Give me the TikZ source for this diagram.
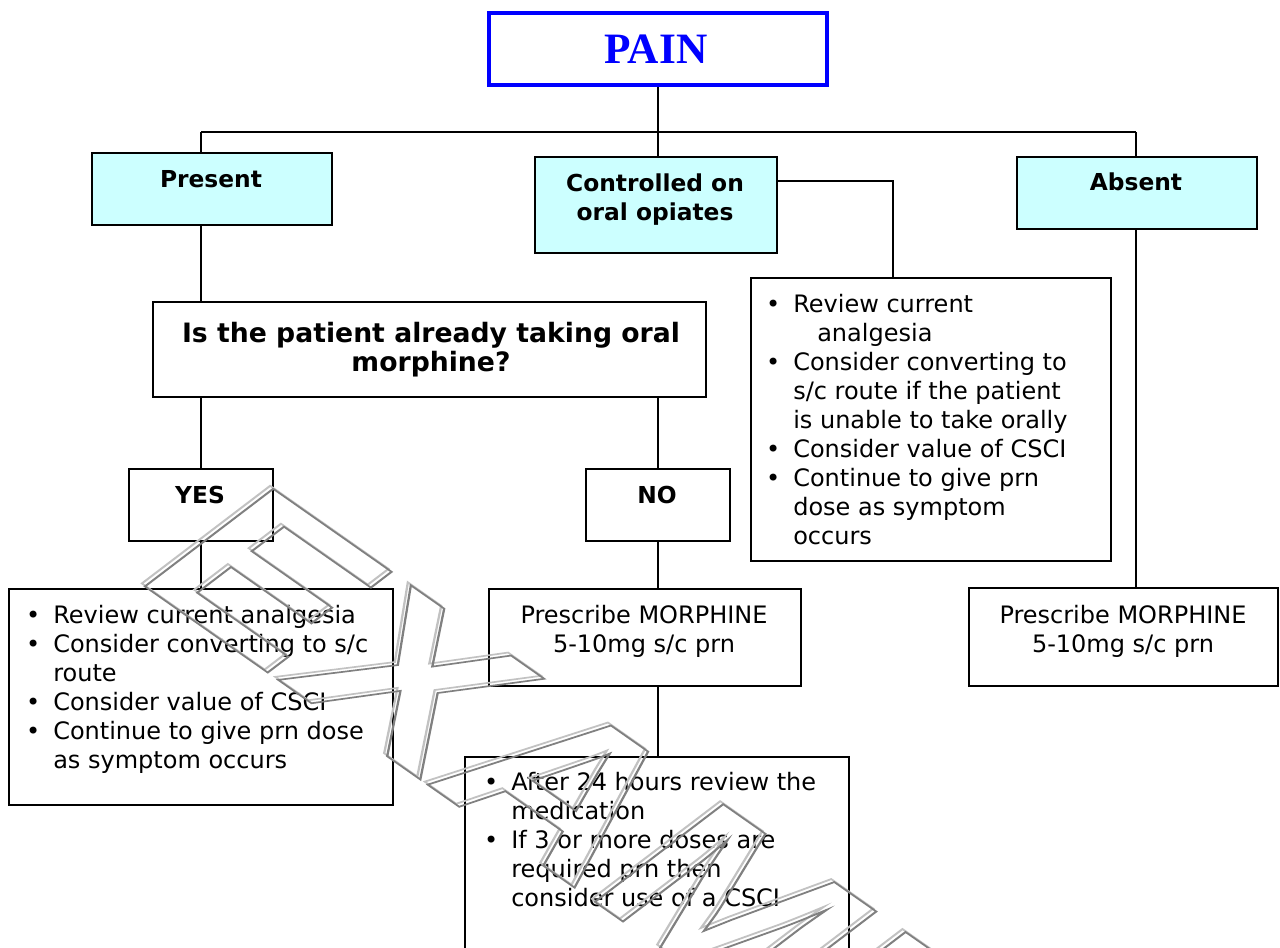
\documentclass[tikz,border=0pt]{standalone}
\usepackage{fontspec}
\setmainfont{DejaVu Sans}
\newfontfamily\painfont{Liberation Serif}
\newfontfamily\wmfont{Liberation Sans}
\definecolor{boxcyan}{HTML}{CCFFFF}
\definecolor{painblue}{HTML}{0000FF}
\definecolor{wmlight}{gray}{0.76}
\definecolor{wmdark}{gray}{0.5}
\newcommand\regfont{\fontsize{18pt}{21.75pt}\selectfont}
\newcommand\lblfont{\fontsize{17.5pt}{21.75pt}\selectfont\bfseries}
\newcommand\qfont{\fontsize{20pt}{21.75pt}\selectfont\bfseries}
\newcommand\bl{\makebox[22.5pt][l]{\makebox[15pt][c]{•}}}
\newcommand\ind{\hspace*{22.5pt}}
\newcommand\outl[1]{\special{pdf:literal 1 Tr 1.3 w 0 j}#1\special{pdf:literal 0 Tr}}
\tikzset{
  box/.style={draw=black, line width=1.5pt, rectangle, inner sep=0pt, anchor=north west},
  cyanbox/.style={box, fill=boxcyan},
  conn/.style={draw=black, line width=1.5pt},
  lbl/.style={inner sep=0pt, anchor=base, font=\lblfont},
  ctxt/.style={inner sep=0pt, anchor=north, align=center, font=\regfont},
  ltxt/.style={inner sep=0pt, anchor=north west, align=left, font=\regfont},
  wm/.style={anchor=base west, inner sep=0pt, cm={0.983,-0.689,0.8375,0.6375,(0,0)},
             font=\wmfont\bfseries\fontsize{167pt}{167pt}\selectfont}
}
\begin{document}
\begin{tikzpicture}[x=0.75pt, y=-0.75pt]
\useasboundingbox (0,0) rectangle (1280,947);
\clip (0,0) rectangle (1280,947);
\fill[white] (0,0) rectangle (1280,947);

% boxes
\node[box, draw=painblue, line width=3pt, minimum width=253.5pt, minimum height=54pt] (pain) at (487,11) {};
\node[cyanbox, minimum width=180pt, minimum height=54pt] (present) at (91,152) {};
\node[cyanbox, minimum width=181.5pt, minimum height=72pt] (ctrl) at (534,156) {};
\node[cyanbox, minimum width=180pt, minimum height=54pt] (absent) at (1016,156) {};
\node[box, minimum width=270pt, minimum height=212.25pt] (review) at (750,277) {};
\node[box, minimum width=231.75pt, minimum height=73.5pt] (presR) at (968,587) {};
\node[box, minimum width=414.75pt, minimum height=71.25pt] (question) at (152,301) {};
\node[box, minimum width=108pt, minimum height=54pt] (yes) at (128,468) {};
\node[box, minimum width=108pt, minimum height=54pt] (no) at (585,468) {};
\node[box, minimum width=288pt, minimum height=162pt] (leftlist) at (8,588) {};
\node[box, minimum width=234pt, minimum height=72.75pt] (presM) at (488,588) {};
\node[box, minimum width=288pt, minimum height=180pt] (bottom) at (464,756) {};

% connectors
\coordinate (busL) at (201,132);
\coordinate (busR) at (1136,132);
\coordinate (cj) at (893,181);
\draw[conn] (pain.south) -- (pain.south |- ctrl.north);
\draw[conn] (busL) -- (busR);
\draw[conn] (busL) -- (busL |- present.north);
\draw[conn] (busR) -- (busR |- absent.north);
\draw[conn] (busL |- present.south) -- (busL |- question.north);
\draw[conn] (yes.north |- question.south) -- (yes.north);
\draw[conn] (no.north |- question.south) -- (no.north);
\draw[conn] (yes.south) -- (yes.south |- leftlist.north);
\draw[conn] (no.south) -- (no.south |- presM.north);
\draw[conn] (no.south |- presM.south) -- (no.south |- bottom.north);
\draw[conn] (ctrl.east |- cj) -- (cj) -- (cj |- review.north);
\draw[conn] (busR |- absent.south) -- (busR |- presR.north);

% texts
\node[inner sep=0pt, anchor=base, text=painblue, font=\painfont\bfseries\fontsize{32.5pt}{36pt}\selectfont] (paint) at (656,63) {PAIN};
\node[lbl] (presentt) at (211,187) {Present};
\node[lbl] (absentt) at (1136,190) {Absent};
\node[lbl] (yest) at (200,503) {YES};
\node[lbl] (not) at (657,503) {NO};
\node[inner sep=0pt, anchor=north, align=center, font=\lblfont] (ctrlt) at (655,170.7) {\strut Controlled on\\oral opiates};
\node[inner sep=0pt, anchor=north, align=center, font=\qfont] (questiont) at (431,321.7) {\strut Is the patient already taking oral\\morphine?};
\node[ctxt] (presMt) at (644,602.7) {\strut Prescribe MORPHINE\\5-10mg s/c prn};
\node[ctxt] (presRt) at (1123,602.7) {\strut Prescribe MORPHINE\\5-10mg s/c prn};
\node[ltxt] (leftlistt) at (23,602.7) {\strut\bl Review current analgesia\\
\bl Consider converting to s/c\\
\ind route\\
\bl Consider value of CSCI\\
\bl Continue to give prn dose\\
\ind as symptom occurs};
\node[ltxt] (reviewt) at (763,291.7) {\strut\bl Review current\\
\hspace*{40.5pt}analgesia\\
\bl Consider converting to\\
\ind s/c route if the patient\\
\ind is unable to take orally\\
\bl Consider value of CSCI\\
\bl Continue to give prn\\
\ind dose as symptom\\
\ind occurs};
\node[ltxt] (bottomt) at (481,769.7) {\strut\bl After 24 hours review the\\
\ind medication\\
\bl If 3 or more doses are\\
\ind required prn then\\
\ind consider use of a CSCI};

% watermark
\node[wm, text=wmlight] (wm1) at (127,573) {\outl{EXAMPLE}};
\node[wm, text=wmdark] (wm2) at (130,576) {\outl{EXAMPLE}};
\end{tikzpicture}
\end{document}
